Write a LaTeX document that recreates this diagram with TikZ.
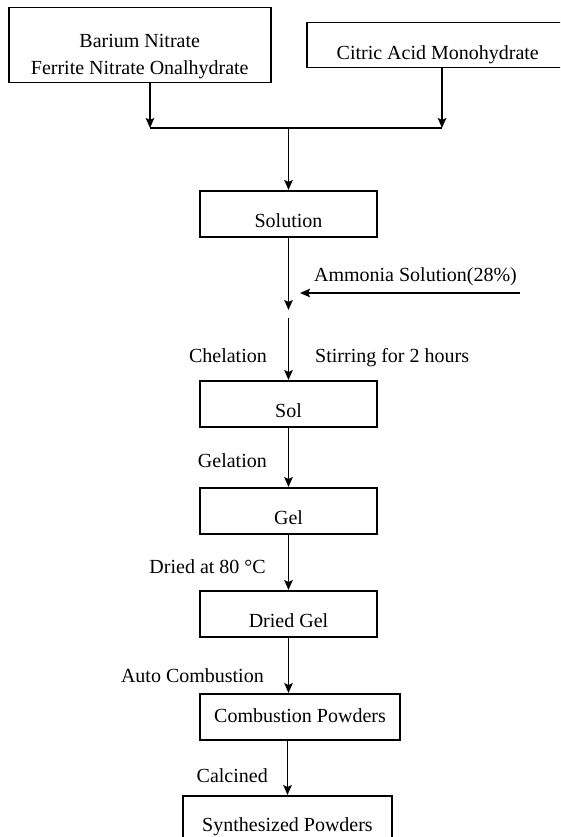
\documentclass[tikz,border=0pt]{standalone}
\usepackage{fontspec}
\setmainfont{Liberation Serif}
\usetikzlibrary{arrows.meta}
\begin{document}
\begin{tikzpicture}[x=1pt,y=-1pt,
  every node/.style={font=\fontsize{20}{27}\selectfont, text=black},
  box/.style={draw, line width=1.5pt, inner xsep=0pt, inner ysep=0pt, text height=37pt, text depth=9pt, anchor=north},
  lbl/.style={inner sep=0pt, anchor=base east},
  arr/.style={line width=1.8pt, -{Stealth[length=10pt,width=8.5pt,inset=2pt]}},
  ln/.style={line width=1.8pt}]
\useasboundingbox (0,0) rectangle (560,837);
\fill[white] (0,0) rectangle (560,837);
\clip (0,0) rectangle (560,837);

\node[draw, line width=1.5pt, minimum width=262pt, minimum height=75pt, inner sep=0pt, anchor=north west] (b1) at (8,7) {};
\node[align=center, inner sep=0pt, yshift=-11.5pt] (b1t) at (b1.center) {Barium Nitrate\\Ferrite Nitrate Onalhydrate};
\node[box, anchor=north west, minimum width=262pt, text height=37pt, text depth=8pt] (b2) at (306,22) {Citric Acid Monohydrate};

\coordinate (j1) at (150,128);
\coordinate (j2) at (442,128);
\coordinate (j3) at (288.5,128);
\draw[arr] (b1.south -| j1) -- (j1);
\draw[arr] (b2.south -| j2) -- (j2);
\draw[ln] (j1) -- (j2);

\node[box, minimum width=177pt] (sol) at (288.5,190) {Solution};
\draw[arr] (j3) -- (sol.north);
\coordinate (m1) at (288.5,310);
\coordinate (m2) at (288.5,318);
\draw[arr] (sol.south) -- (m1);
\coordinate (am) at (520,293);
\coordinate (amt) at (300,293);
\draw[arr] (am) -- (amt);
\node[inner sep=0pt, anchor=base] (amlab) at (415.5,281) {Ammonia Solution(28\%)};

\node[box, minimum width=177pt] (solnode) at (288.5,380) {Sol};
\draw[arr] (m2) -- (solnode.north);
\node[lbl] (chel) at (267,362) {Chelation};
\node[inner sep=0pt, anchor=base west] (stir) at (315,362) {Stirring for 2 hours};

\node[box, minimum width=177pt] (gel) at (288.5,487) {Gel};
\draw[arr] (solnode.south) -- (gel.north);
\node[lbl] (gelat) at (267,467) {Gelation};

\node[box, minimum width=177pt] (dgel) at (288.5,590) {Dried Gel};
\draw[arr] (gel.south) -- (dgel.north);
\node[lbl] (dried) at (266,573) {Dried at 80 °C};

\node[box, minimum width=200pt, text height=29pt, text depth=17pt] (comb) at (300,693) {Combustion Powders};
\draw[arr] (dgel.south) -- (dgel.south |- comb.north);
\node[lbl] (auto) at (264,682) {Auto Combustion};

\node[box, minimum width=209pt, text height=36pt, text depth=11pt] (syn) at (287.5,795) {Synthesized Powders};
\draw[arr] (syn.north |- comb.south) -- (syn.north);
\node[lbl] (calc) at (268,782) {Calcined};
\end{tikzpicture}
\end{document}
